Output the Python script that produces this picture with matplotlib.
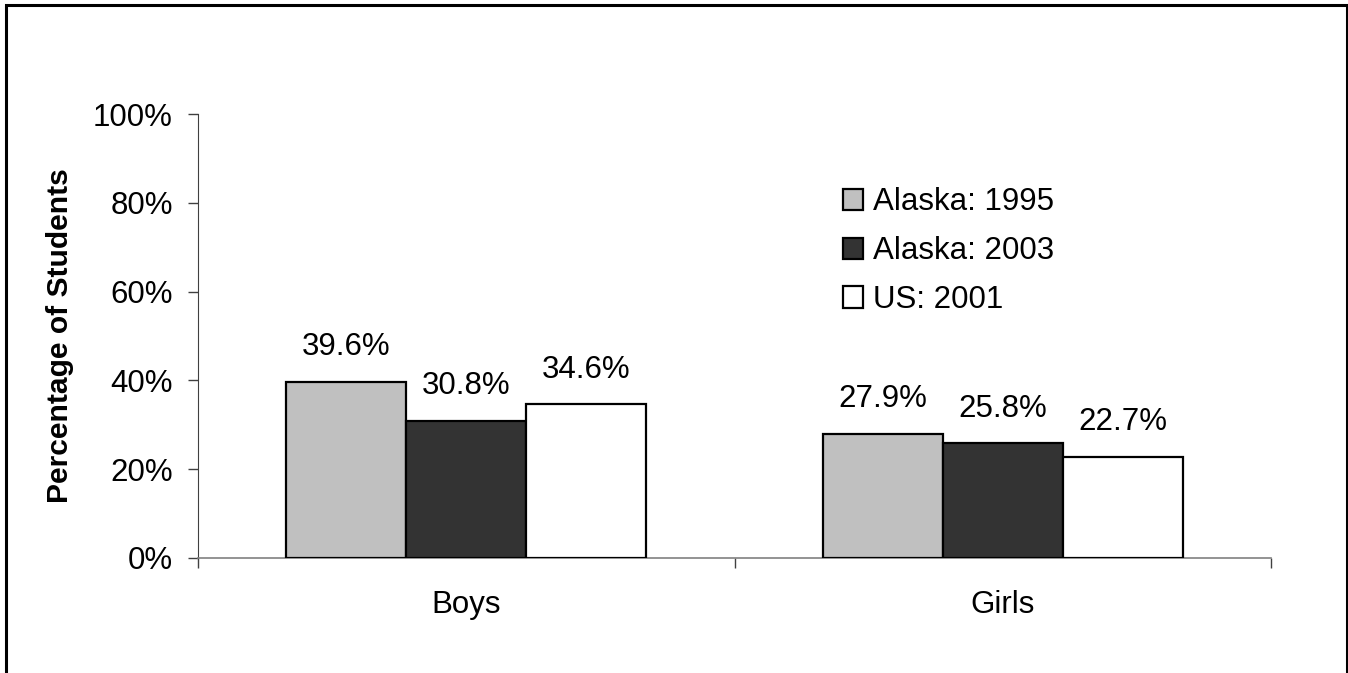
import numpy as np
import matplotlib
matplotlib.use("Agg")
import matplotlib.pyplot as plt
from matplotlib.patches import Rectangle
from matplotlib.ticker import FuncFormatter

plt.rcParams['font.family'] = ['Liberation Sans', 'DejaVu Sans']

categories = ['Boys', 'Girls']
series_names = ['Alaska: 1995', 'Alaska: 2003', 'US: 2001']
alaska_1995 = [39.6, 27.9]
alaska_2003 = [30.8, 25.8]
us_2001 = [34.6, 22.7]
y_ticks = [0, 20, 40, 60, 80, 100]

FS = 22.5
colors = ['#C0C0C0', '#333333', '#FFFFFF']

fig = plt.figure(figsize=(13.48, 6.73), dpi=100)
ax = fig.add_axes([198 / 1348, 1 - 557.7 / 673, (1271 - 198) / 1348, (557.7 - 114.3) / 673])

x = np.arange(len(categories))
width = 0.2237
for i, (vals, name) in enumerate(zip([alaska_1995, alaska_2003, us_2001], series_names)):
    bars = ax.bar(x + (i - 1) * width, vals, width, color=colors[i], edgecolor='black',
                  linewidth=1.6, label=name, zorder=3)
    for b, v in zip(bars, vals):
        ax.annotate(f'{v:.1f}%', (b.get_x() + b.get_width() / 2, v),
                    xytext=(0, 25), textcoords='offset points',
                    ha='center', va='center', fontsize=FS)

ax.set_xlim(-0.5, len(categories) - 0.5)
ax.set_ylim(0, 100)
ax.set_yticks(y_ticks)
ax.yaxis.set_major_formatter(FuncFormatter(lambda v, p: f'{v:.0f}%'))
ax.tick_params(axis='y', direction='out', length=7.2, width=1, color='#404040',
               labelsize=FS, pad=11)

ax.set_xticks(np.arange(len(categories) + 1) - 0.5)
ax.set_xticklabels([])
ax.tick_params(axis='x', which='major', direction='out', length=7.2, width=1, color='#404040')
ax.set_xticks(x, minor=True)
ax.set_xticklabels(categories, minor=True)
ax.tick_params(axis='x', which='minor', length=0, labelsize=FS, pad=23)

for s in ['top', 'right']:
    ax.spines[s].set_visible(False)
ax.spines['left'].set_color('#404040')
ax.spines['bottom'].set_color('#808080')
ax.spines['bottom'].set_linewidth(1.2)

ax.set_ylabel('Percentage of Students', fontsize=21.6, fontweight='bold')
ax.yaxis.set_label_coords(-0.116, 0.5)

ax.legend(loc='upper left', bbox_to_anchor=(0.601, 0.835), frameon=False, fontsize=FS,
          handlelength=0.66, handleheight=0.66, handletextpad=0.3, labelspacing=0.6,
          borderpad=0, borderaxespad=0)

fig.patches.append(Rectangle((6 / 1348, -0.05), 1340.5 / 1348, 1.05 - 5 / 673,
                             transform=fig.transFigure, fill=False, edgecolor='black',
                             linewidth=2.2))

fig.savefig('out.png', dpi=100)
